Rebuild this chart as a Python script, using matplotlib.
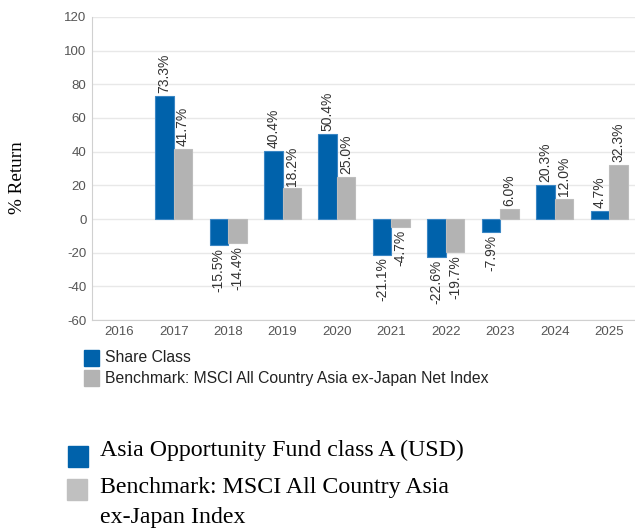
import matplotlib
matplotlib.use("Agg")
import matplotlib.pyplot as plt
import numpy as np
from matplotlib.patches import Rectangle

plt.rcParams['axes.unicode_minus'] = False

# calendar year returns
years = ['2016', '2017', '2018', '2019', '2020', '2021', '2022', '2023', '2024', '2025']
share_class = [None, 73.3, -15.5, 40.4, 50.4, -21.1, -22.6, -7.9, 20.3, 4.7]
benchmark = [None, 41.7, -14.4, 18.2, 25.0, -4.7, -19.7, 6.0, 12.0, 32.3]

blue = '#0062ab'
grey = '#b3b3b3'
tick_grey = '#555555'

fig = plt.figure(figsize=(6.35, 5.29), dpi=100)
ax = fig.add_axes([0.145, 0.395, 0.857, 0.573])

x = np.arange(len(years))
w = 0.34

for xi, s, b in zip(x, share_class, benchmark):
    if s is None:
        continue
    for off, val, col, ec in [(-w / 2, s, blue, '#3a86c4'), (w / 2, b, grey, '#bdbdbd')]:
        ax.bar(xi + off, val, width=w, color=col, edgecolor=ec, lw=0.8, zorder=3)
        if val >= 0:
            ax.annotate(f'{val:.1f}%', (xi + off, val), xytext=(0, 2), textcoords='offset points',
                        rotation=90, ha='center', va='bottom', fontsize=10,
                        family='Liberation Sans', color='#333333')
        else:
            ax.annotate(f'{val:.1f}%', (xi + off, val), xytext=(0, -2), textcoords='offset points',
                        rotation=90, ha='center', va='top', fontsize=10,
                        family='Liberation Sans', color='#333333')

ax.set_xlim(-0.5, len(years) - 0.5)
ax.set_ylim(-60, 120)
ax.set_yticks(range(-60, 121, 20))
ax.set_xticks(x)
ax.set_xticklabels(years)
ax.tick_params(length=0, labelsize=9.5, labelcolor=tick_grey, pad=4)
for lab in ax.get_xticklabels() + ax.get_yticklabels():
    lab.set_family('Liberation Sans')
ax.grid(axis='y', color='#e8e8e8', lw=1, zorder=0)
for sp in ['top', 'right']:
    ax.spines[sp].set_visible(False)
for sp in ['left', 'bottom']:
    ax.spines[sp].set_color('#d0d0d0')

fig.text(18 / 635, 1 - 178 / 529, '% Return', rotation=90, ha='center', va='center',
         family='Liberation Serif', fontsize=13.8)

# chart legend
fig.patches.append(Rectangle((84 / 635, 1 - 366 / 529), 15 / 635, 16 / 529,
                             transform=fig.transFigure, color=blue))
fig.patches.append(Rectangle((84 / 635, 1 - 386 / 529), 15 / 635, 16 / 529,
                             transform=fig.transFigure, color=grey))
fig.text(105 / 635, 1 - 358 / 529, 'Share Class', va='center', ha='left',
         family='Liberation Sans', fontsize=11.3, color='#222222')
fig.text(105 / 635, 1 - 378 / 529, 'Benchmark: MSCI All Country Asia ex-Japan Net Index',
         va='center', ha='left', family='Liberation Sans', fontsize=11.3, color='#222222')

# page legend
fig.patches.append(Rectangle((68 / 635, 1 - 467 / 529), 20 / 635, 21 / 529,
                             transform=fig.transFigure, color=blue))
fig.patches.append(Rectangle((67 / 635, 1 - 500 / 529), 20 / 635, 21 / 529,
                             transform=fig.transFigure, color='#c0c0c0'))
fig.text(100 / 635, 1 - 450 / 529, 'Asia Opportunity Fund class A (USD)', va='center',
         ha='left', family='Liberation Serif', fontsize=17.2)
fig.text(100 / 635, 1 - 487 / 529, 'Benchmark: MSCI All Country Asia', va='center',
         ha='left', family='Liberation Serif', fontsize=17.2)
fig.text(100 / 635, 1 - 517 / 529, 'ex-Japan Index', va='center',
         ha='left', family='Liberation Serif', fontsize=17.2)

fig.savefig('out.png', dpi=100)
plt.close('all')
